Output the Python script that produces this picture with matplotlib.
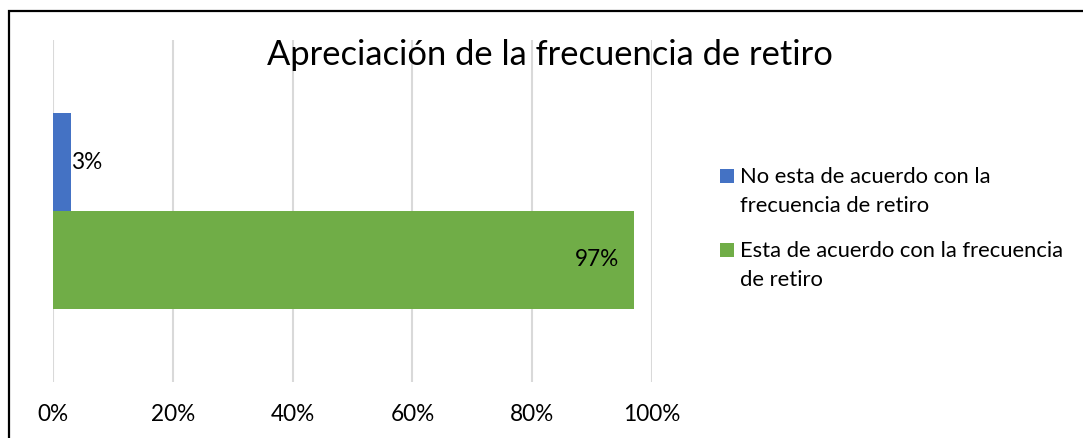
import matplotlib
matplotlib.use("Agg")
import matplotlib.pyplot as plt
from matplotlib.patches import Rectangle

title = "Apreciación de la frecuencia de retiro"
series_names = ["No esta de acuerdo con la\nfrecuencia de retiro",
                "Esta de acuerdo con la frecuencia\nde retiro"]
values = [3, 97]
value_labels = ["3%", "97%"]
colors = ["#4472C4", "#70AD47"]
xticks = [0, 20, 40, 60, 80, 100]
xtick_labels = ["0%", "20%", "40%", "60%", "80%", "100%"]

plt.rcParams['font.family'] = ['Lato', 'DejaVu Sans']
FS = 16.3

W, H = 1083, 438
fig = plt.figure(figsize=(W/100, H/100), dpi=100)
ax = fig.add_axes([53/W, 1-382/H, (652-53)/W, (382-40)/H])

h = 0.2865
offsets = [h/2, -h/2]
for v, c, off in zip(values, colors, offsets):
    ax.barh(off, v, height=h, color=c, zorder=3)

ax.text(values[0], offsets[0], value_labels[0], ha="left", va="center", fontsize=FS, color="#000000", zorder=4)
ax.text(values[1] - 2.5, offsets[1], value_labels[1], ha="right", va="center", fontsize=FS, color="#000000", zorder=4)

ax.set_xlim(0, 100)
ax.set_ylim(-0.5, 0.5)
ax.set_xticks(xticks)
ax.set_xticklabels(xtick_labels, fontsize=FS)
ax.set_yticks([])
ax.tick_params(axis='x', length=0, pad=16)
ax.grid(axis='x', color="#D9D9D9", linewidth=1.5, zorder=0)
for s in ax.spines.values():
    s.set_visible(False)

fig.text(550/W, 1-65/H, title, ha="center", va="baseline", fontsize=24.8)

# legend drawn manually (marker aligned with first line of each entry)
leg_first_baselines = [183, 257]
line_step = 29
for name, c, yb in zip(series_names, colors, leg_first_baselines):
    fig.patches.append(Rectangle((720/W, 1-yb/H), 14/W, 14/H, transform=fig.transFigure,
                                 facecolor=c, edgecolor="none"))
    for i, line in enumerate(name.split("\n")):
        fig.text(740/W, 1-(yb + i*line_step)/H, line, ha="left", va="baseline", fontsize=FS - 0.5)

fig.patches.append(Rectangle((9/W, -0.2), 1.2, 1.2 - 10.5/H,
                             transform=fig.transFigure, fill=False, edgecolor="black",
                             linewidth=1.6))
fig.savefig("out.png", dpi=100)
